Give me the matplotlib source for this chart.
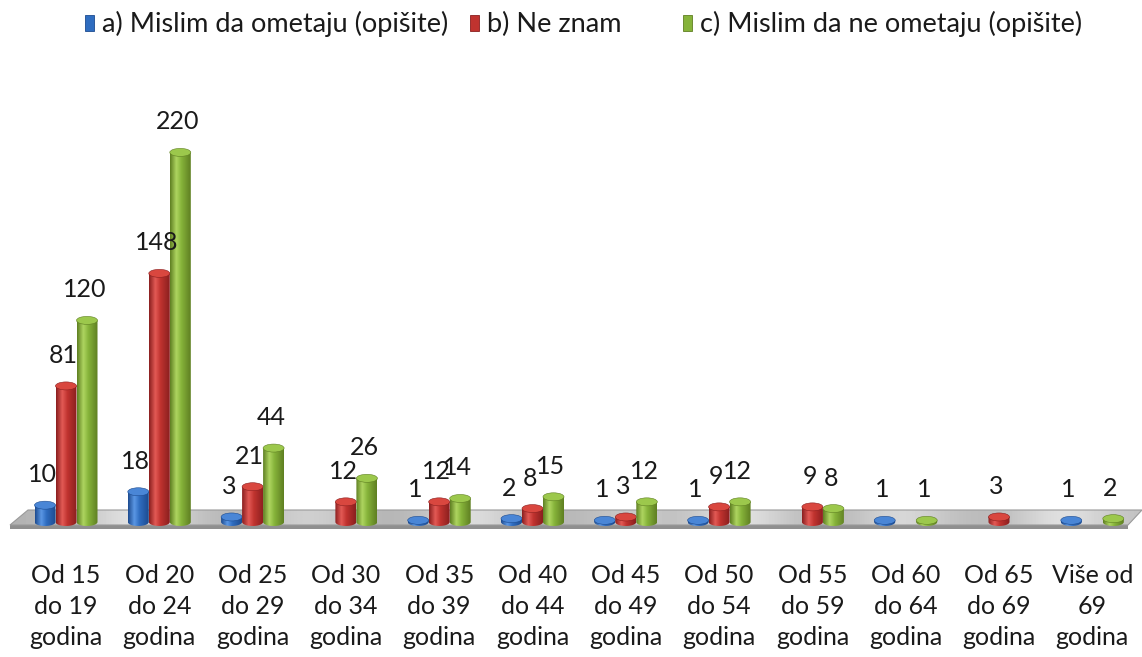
import numpy as np
import matplotlib
matplotlib.use("Agg")
import matplotlib.pyplot as plt
from matplotlib.colors import LinearSegmentedColormap
from matplotlib.patches import Ellipse, Polygon, Rectangle

plt.rcParams['font.family'] = ['Lato', 'DejaVu Sans']

# Age groups and answer counts (None = no answer in that group)
categories = ["Od 15\ndo 19\ngodina", "Od 20\ndo 24\ngodina", "Od 25\ndo 29\ngodina",
              "Od 30\ndo 34\ngodina", "Od 35\ndo 39\ngodina", "Od 40\ndo 44\ngodina",
              "Od 45\ndo 49\ngodina", "Od 50\ndo 54\ngodina", "Od 55\ndo 59\ngodina",
              "Od 60\ndo 64\ngodina", "Od 65\ndo 69\ngodina", "Više od\n69\ngodina"]
ometaju    = [10, 18, 3, None, 1, 2, 1, 1, None, 1, None, 1]
ne_znam    = [81, 148, 21, 12, 12, 8, 3, 9, 9, None, 3, None]
ne_ometaju = [120, 220, 44, 26, 14, 15, 12, 12, 8, 1, None, 2]

series_names = ["a) Mislim da ometaju (opišite)", "b) Ne znam", "c) Mislim da ne ometaju (opišite)"]
series = [ometaju, ne_znam, ne_ometaju]
# dark edge, body, highlight, cap
palettes = [
    ("#1d4b8f", "#2f6dc0", "#5b97e4", "#4a86d6"),
    ("#8a1f1f", "#c0332f", "#e35a55", "#d9473f"),
    ("#5f7f22", "#86b33a", "#aed560", "#9cc84c"),
]

W, H, DPI = 1142, 657, 100
PX_X = 93.3          # pixels per category
PX_Y = 1.68          # pixels per count
X0_PX = 66           # pixel x of first category
BASE_PX = 522        # pixel y (from top) of the floor line
AX_BOTTOM_PX = 540
AX_TOP_PX = 60
FS = 18

fig = plt.figure(figsize=(W / DPI, H / DPI), dpi=DPI)
ax = fig.add_axes([0, (H - AX_BOTTOM_PX) / H, 1, (AX_BOTTOM_PX - AX_TOP_PX) / H])
xlim = (-X0_PX / PX_X, (W - X0_PX) / PX_X)
ylim = (-(AX_BOTTOM_PX - BASE_PX) / PX_Y, (BASE_PX - AX_TOP_PX) / PX_Y)


def px2data(px, py):
    return (px - X0_PX) / PX_X, (BASE_PX - py) / PX_Y


# floor slab
floor_top = [px2data(10, 525), px2data(28, 510), px2data(1142, 510), px2data(1128, 525)]
floor_front = [px2data(10, 525), px2data(1128, 525), px2data(1128, 529), px2data(10, 529)]
ax.add_patch(Polygon(floor_front, closed=True, facecolor="#8f8f8f", edgecolor="none", zorder=1))
top_patch = Polygon(floor_top, closed=True, facecolor="none", edgecolor="#9a9a9a", lw=0.8, zorder=1.2)
ax.add_patch(top_patch)
shine = np.array([[0.70, 0.78, 0.95, 0.74, 0.70, 0.86, 0.72, 0.70, 0.93, 0.74,
                   0.70, 0.82, 0.72, 0.95, 0.75, 0.70, 0.90, 0.74, 0.72, 0.94, 0.76]])
fx0, fy0 = px2data(10, 529)
fx1, fy1 = px2data(1142, 510)
im = ax.imshow(shine, cmap="gray", vmin=0, vmax=1, extent=(fx0, fx1, fy0, fy1),
               aspect="auto", interpolation="bicubic", zorder=1.1)
im.set_clip_path(top_patch)

bar_w = 21 / PX_X
cap_h = 8 / PX_Y
t = np.linspace(np.pi, 2 * np.pi, 30)
grad = np.linspace(0, 1, 64).reshape(1, -1)

for s, (vals, pal) in enumerate(zip(series, palettes)):
    dark, body, light, cap = pal
    cmap = LinearSegmentedColormap.from_list(f"cyl{s}", [(0, dark), (0.3, light), (0.55, body), (1, dark)])
    for i, v in enumerate(vals):
        if v is None:
            continue
        xc = i + (s - 1) * bar_w
        x0, x1 = xc - bar_w / 2, xc + bar_w / 2
        verts = [(x0, v), (x0, 0)]
        verts += list(zip(xc + bar_w / 2 * np.cos(t), cap_h / 2 * np.sin(t)))
        verts += [(x1, 0), (x1, v), (x0, v)]
        shape = Polygon(verts, closed=True, facecolor="none", edgecolor="none", zorder=2 + s * 0.1)
        ax.add_patch(shape)
        bim = ax.imshow(grad, cmap=cmap, extent=(x0, x1, -cap_h, v), aspect="auto",
                        interpolation="bilinear", zorder=2 + s * 0.1)
        bim.set_clip_path(shape)
        ax.add_patch(Ellipse((xc, v), bar_w, cap_h, facecolor=cap, edgecolor=dark,
                             lw=0.4, zorder=2.05 + s * 0.1))
        ax.annotate(str(v), (xc, v), xytext=(-2, 22), textcoords="offset points",
                    ha="center", va="center", fontsize=FS, color="#1a1a1a", zorder=5)

ax.set_xlim(*xlim)
ax.set_ylim(*ylim)
ax.set_xticks(range(len(categories)))
ax.set_xticklabels(categories, fontsize=FS, linespacing=1.42, color="#1a1a1a")
ax.tick_params(axis="x", length=0, pad=17)
ax.set_yticks([])
for sp in ax.spines.values():
    sp.set_visible(False)

# legend row
legend_x = [85, 470, 683]
for (name, pal, lx) in zip(series_names, palettes, legend_x):
    fig.patches.append(Rectangle((lx / W, 1 - 31 / H), 9 / W, 16 / H, transform=fig.transFigure,
                                 facecolor=pal[1], edgecolor=pal[0], lw=0.6))
    fig.text((lx + 17) / W, 1 - 24 / H, name, fontsize=19.5, va="center", ha="left", color="#1a1a1a")

fig.savefig("out.png", dpi=DPI)
